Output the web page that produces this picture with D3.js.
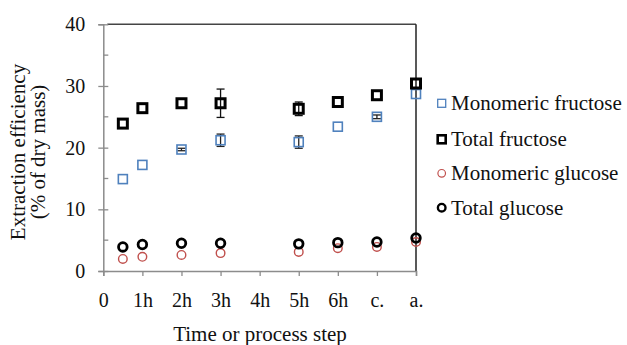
<!DOCTYPE html>
<html><head><meta charset="utf-8">
<script src="https://cdn.jsdelivr.net/npm/d3@7"></script>
<style>body{margin:0;background:#fff}svg{display:block}</style>
</head><body>
<svg id="c" width="627" height="345" style="font-family:'Liberation Serif',serif"></svg>
<script>
const xTickLabels = ["0","1h","2h","3h","4h","5h","6h","c.","a."];
const xPos = [0.5, 1, 2, 3, 5, 6, 7, 8];
const monoFructose = [14.9, 17.2, 19.7, 21.2, 20.9, 23.4, 25.0, 28.7];
const monoFructoseErr = [0, 0, 0.2, 1.0, 1.0, 0, 0.3, 0];
const totalFructose = [23.9, 26.4, 27.2, 27.2, 26.3, 27.4, 28.5, 30.4];
const totalFructoseErr = [0, 0, 0, 2.3, 1.1, 0, 0, 0];
const monoGlucose = [1.95, 2.3, 2.6, 2.9, 3.1, 3.7, 3.9, 4.7];
const totalGlucose = [3.9, 4.3, 4.5, 4.5, 4.4, 4.6, 4.7, 5.35];
const yTicks = [0, 10, 20, 30, 40];
const yMinor = [5, 15, 25, 35];
const seriesNames = ["Monomeric fructose","Total fructose","Monomeric glucose","Total glucose"];

const FONT = "'Liberation Serif', 'Times New Roman', serif";
const svg = d3.select("#c");
const x = d3.scaleLinear().domain([0, 8]).range([103.3, 416]);
const y = d3.scaleLinear().domain([0, 40]).range([271, 24.3]);
const axisGray = "#8c8c8c";

// top and right borders
svg.append("line").attr("x1", x(0)+4).attr("x2", x(8)).attr("y1", y(40)).attr("y2", y(40)).attr("stroke", "#444").attr("stroke-width", 1.5);
svg.append("line").attr("x1", x(8)).attr("x2", x(8)).attr("y1", y(40)).attr("y2", y(0)).attr("stroke", "#222").attr("stroke-width", 1.5);

// y axis
const yAx = svg.append("g").attr("transform", `translate(${x(0)},0)`)
  .call(d3.axisLeft(y).tickValues(yTicks).tickSize(5).tickPadding(13));
yAx.attr("font-family", null);
yAx.select(".domain").attr("stroke", axisGray).attr("stroke-width", 1.5);
yAx.selectAll(".tick line").attr("stroke", axisGray).attr("stroke-width", 1.3).attr("x2", 5).attr("x1", -5);
yAx.selectAll(".tick text").style("font-size", "20px").style("fill", "#111").style("font-family", FONT);
svg.append("g").selectAll("line").data(yMinor).join("line")
  .attr("x1", x(0)).attr("x2", x(0)+5).attr("y1", d => y(d)).attr("y2", d => y(d))
  .attr("stroke", axisGray).attr("stroke-width", 1.3);

// x axis
const xAx = svg.append("g").attr("transform", `translate(0,${y(0)})`)
  .call(d3.axisBottom(x).tickValues(d3.range(9)).tickFormat(i => xTickLabels[i]).tickSize(5).tickPadding(17));
xAx.attr("font-family", null);
xAx.select(".domain").attr("stroke", axisGray).attr("stroke-width", 1.5);
xAx.selectAll(".tick line").attr("stroke", axisGray).attr("stroke-width", 1.3);
xAx.selectAll(".tick text").style("font-size", "20px").style("fill", "#111").style("font-family", FONT);

// axis titles
function label(sel) { return sel.style("font-family", FONT).style("font-size", "21px").style("fill", "#111"); }
label(svg.append("text").attr("x", 260).attr("y", 341).attr("text-anchor", "middle").text("Time or process step"));
label(svg.append("text").attr("transform", "translate(25,152) rotate(-90)").attr("text-anchor", "middle").text("Extraction efficiency"));
label(svg.append("text").attr("transform", "translate(45,152) rotate(-90)").attr("text-anchor", "middle").text("(% of dry mass)"));

// error bars
function errBars(vals, errs, color) {
  const g = svg.append("g").attr("stroke", color).attr("stroke-width", 1.3);
  vals.forEach((v, i) => {
    const e = errs[i]; if (!e) return;
    const cx = x(xPos[i]);
    g.append("line").attr("x1", cx).attr("x2", cx).attr("y1", y(v+e)).attr("y2", y(v-e));
    g.append("line").attr("x1", cx-4).attr("x2", cx+4).attr("y1", y(v+e)).attr("y2", y(v+e));
    g.append("line").attr("x1", cx-4).attr("x2", cx+4).attr("y1", y(v-e)).attr("y2", y(v-e));
  });
}
errBars(totalFructose, totalFructoseErr, "#111");
errBars(monoFructose, monoFructoseErr, "#222");

const blue = "#4f81bd", red = "#c0504d";
function squares(vals, color, size, sw) {
  svg.append("g").selectAll("rect").data(vals).join("rect")
    .attr("x", (d, i) => x(xPos[i]) - size/2).attr("y", d => y(d) - size/2)
    .attr("width", size).attr("height", size)
    .attr("fill", "none").attr("stroke", color).attr("stroke-width", sw);
}
function circles(vals, color, r, sw) {
  svg.append("g").selectAll("circle").data(vals).join("circle")
    .attr("cx", (d, i) => x(xPos[i])).attr("cy", d => y(d)).attr("r", r)
    .attr("fill", "none").attr("stroke", color).attr("stroke-width", sw);
}
circles(monoGlucose, red, 4.3, 1.4);
circles(totalGlucose, "#000", 4.3, 2.8);
squares(monoFructose, blue, 9, 1.6);
squares(totalFructose, "#000", 9, 3);

// legend
const lg = svg.append("g");
const rows = [103.3, 139.3, 173.3, 207.7];
const lx = 441.7;
lg.append("rect").attr("x", lx-4).attr("y", rows[0]-4).attr("width", 8).attr("height", 8).attr("fill", "none").attr("stroke", blue).attr("stroke-width", 1.3);
lg.append("rect").attr("x", lx-4).attr("y", rows[1]-4).attr("width", 8).attr("height", 8).attr("fill", "none").attr("stroke", "#000").attr("stroke-width", 2.6);
lg.append("circle").attr("cx", lx).attr("cy", rows[2]).attr("r", 3.8).attr("fill", "none").attr("stroke", red).attr("stroke-width", 1.2);
lg.append("circle").attr("cx", lx).attr("cy", rows[3]).attr("r", 3.8).attr("fill", "none").attr("stroke", "#000").attr("stroke-width", 2.4);
seriesNames.forEach((n, i) => {
  label(lg.append("text").attr("x", 451).attr("y", rows[i] + 7).text(n));
});
</script>
</body></html>
